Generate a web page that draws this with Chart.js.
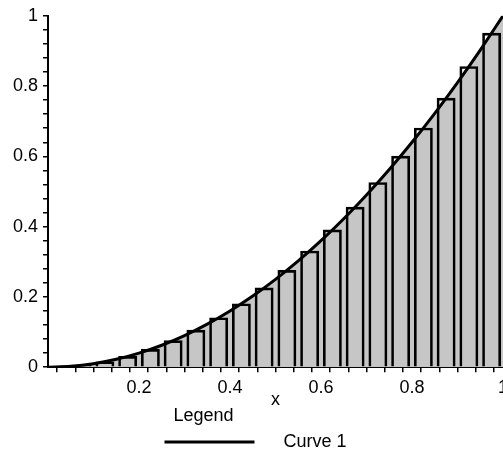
<!DOCTYPE html>
<html>
<head>
<meta charset="utf-8">
<script src="https://cdn.jsdelivr.net/npm/chart.js@4/dist/chart.umd.min.js"></script>
<style>
  html, body { margin: 0; padding: 0; background: #fff; }
  #wrap { width: 503px; height: 455px; }
</style>
</head>
<body>
<div id="wrap"><canvas id="c" width="503" height="455"></canvas></div>
<script>
// Curve 1
const curveX = [0, 0.05, 0.1, 0.15, 0.2, 0.25, 0.3, 0.35, 0.4, 0.45, 0.5, 0.55, 0.6, 0.65, 0.7, 0.75, 0.8, 0.85, 0.9, 0.95, 1];
const curveY = [0, 0.0025, 0.01, 0.0225, 0.04, 0.0625, 0.09, 0.1225, 0.16, 0.2025, 0.25, 0.3025, 0.36, 0.4225, 0.49, 0.5625, 0.64, 0.7225, 0.81, 0.9025, 1];
// Rectangles (midpoint heights)
const barX = [0.025, 0.075, 0.125, 0.175, 0.225, 0.275, 0.325, 0.375, 0.425, 0.475, 0.525, 0.575, 0.625, 0.675, 0.725, 0.775, 0.825, 0.875, 0.925, 0.975];
const barY = [0.0006, 0.0056, 0.0156, 0.0306, 0.0506, 0.0756, 0.1056, 0.1406, 0.1806, 0.2256, 0.2756, 0.3306, 0.3906, 0.4556, 0.5256, 0.6006, 0.6806, 0.7656, 0.8556, 0.9506];
// Tick labels
const xTickValues = [0.2, 0.4, 0.6, 0.8, 1];
const xTickLabels = ['0.2', '0.4', '0.6', '0.8', '1'];
const yTickValues = [0, 0.2, 0.4, 0.6, 0.8, 1];
const yTickLabels = ['0', '0.2', '0.4', '0.6', '0.8', '1'];
const xTitle = 'x';
const legendTitle = 'Legend';
const seriesName = 'Curve 1';

const FONT = "'Liberation Sans', Arial, sans-serif";

function lookup(vals, labels, v) {
  for (let i = 0; i < vals.length; i++) {
    if (Math.abs(vals[i] - v) < 1e-6) return labels[i];
  }
  return '';
}

const ctx = document.getElementById('c').getContext('2d');
new Chart(ctx, {
  type: 'bar',
  data: {
    datasets: [
      {
        type: 'line',
        label: '    ' + seriesName,
        data: curveX.map((x, i) => ({ x: x, y: curveY[i] })),
        borderColor: '#000',
        borderWidth: 3,
        backgroundColor: '#c6c6c6',
        fill: 'origin',
        pointRadius: 0,
        cubicInterpolationMode: 'monotone',
        order: 0
      },
      {
        type: 'bar',
        label: 'rects',
        data: barX.map((x, i) => ({ x: x, y: barY[i] })),
        backgroundColor: 'rgba(0,0,0,0)',
        borderColor: '#000',
        borderWidth: 2,
        borderSkipped: 'bottom',
        barPercentage: 1,
        categoryPercentage: 1,
        order: 1
      }
    ]
  },
  options: {
    responsive: false,
    animation: false,
    layout: { padding: { left: 8, right: 0, top: 7, bottom: -6 } },
    scales: {
      x: {
        type: 'linear',
        min: 0,
        max: 1,
        offset: false,
        border: { display: true, color: '#000', width: 2 },
        grid: { drawOnChartArea: false, drawTicks: true, tickLength: 5, color: '#000', lineWidth: 1.5 },
        ticks: {
          stepSize: 0.04,
          autoSkip: false,
          maxRotation: 0,
          padding: 5,
          color: '#000',
          font: { family: FONT, size: 18 },
          callback: (v) => lookup(xTickValues, xTickLabels, v)
        },
        title: { display: true, text: xTitle, color: '#000', font: { family: FONT, size: 18 }, padding: { top: -15, bottom: -3 } },
        afterFit: (s) => { s.paddingRight = 0; }
      },
      y: {
        type: 'linear',
        min: 0,
        max: 1,
        border: { display: true, color: '#000', width: 2 },
        grid: { drawOnChartArea: false, drawTicks: true, tickLength: 5, color: '#000', lineWidth: 1.5 },
        ticks: {
          stepSize: 0.04,
          autoSkip: false,
          padding: 5,
          color: '#000',
          font: { family: FONT, size: 18 },
          callback: (v) => lookup(yTickValues, yTickLabels, v)
        }
      }
    },
    plugins: {
      filler: { drawTime: 'beforeDatasetsDraw' },
      tooltip: { enabled: false },
      legend: {
        display: true,
        position: 'bottom',
        align: 'center',
        title: { display: true, text: '  ' + legendTitle, position: 'start', color: '#000', font: { family: FONT, size: 18 }, padding: { top: 0, bottom: 2 } },
        labels: {
          filter: (item) => item.datasetIndex === 0,
          usePointStyle: true,
          pointStyle: 'line',
          pointStyleWidth: 90,
          color: '#000',
          font: { family: FONT, size: 18 },
          padding: 2
        }
      }
    }
  }
});
</script>
</body>
</html>
